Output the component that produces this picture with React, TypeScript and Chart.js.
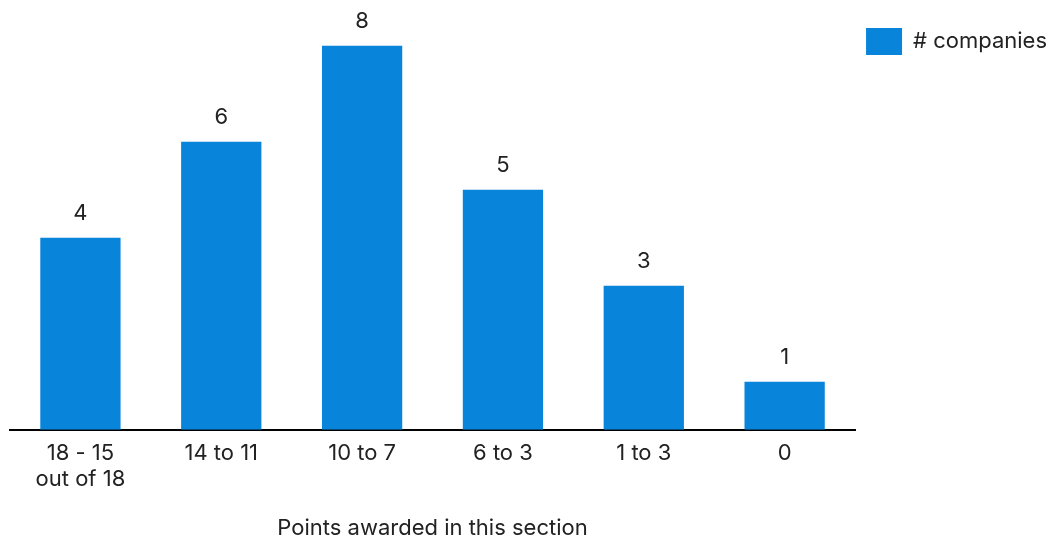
import React, { useEffect, useRef } from "react";
import { Chart, registerables } from "chart.js";

Chart.register(...registerables);

// Score bands and how many companies landed in each
const categories: (string | string[])[] = [
  ["18 - 15", "out of 18"],
  "14 to 11",
  "10 to 7",
  "6 to 3",
  "1 to 3",
  "0",
];
const companies: number[] = [4, 6, 8, 5, 3, 1];
const seriesLabel = "# companies";
const axisTitle = "Points awarded in this section";

const BAR_COLOR = "#0984DB";
const TEXT_COLOR = "#222222";
const FONT_FAMILY = "Inter, 'Noto Sans', sans-serif";
const FONT_SIZE = 22;

// Writes each bar's value just above it
const valueLabels = {
  id: "valueLabels",
  afterDatasetsDraw(chart: Chart) {
    const { ctx } = chart;
    const meta = chart.getDatasetMeta(0);
    const data = chart.data.datasets[0].data as number[];
    ctx.save();
    ctx.font = `${FONT_SIZE}px ${FONT_FAMILY}`;
    ctx.fillStyle = TEXT_COLOR;
    ctx.textAlign = "center";
    ctx.textBaseline = "alphabetic";
    meta.data.forEach((bar: any, i: number) => {
      ctx.fillText(String(data[i]), bar.x, bar.y - 18);
    });
    ctx.restore();
  },
};

export default function App() {
  const canvasRef = useRef<HTMLCanvasElement | null>(null);

  useEffect(() => {
    if (!canvasRef.current) return;
    const chart = new Chart(canvasRef.current, {
      type: "bar",
      data: {
        labels: categories,
        datasets: [
          {
            label: seriesLabel,
            data: companies,
            backgroundColor: BAR_COLOR,
            borderWidth: 0,
            barPercentage: 0.57,
            categoryPercentage: 1,
          },
        ],
      },
      options: {
        animation: false,
        responsive: true,
        maintainAspectRatio: false,
        layout: { padding: { left: 10, top: 17, right: 0, bottom: 0 } },
        plugins: {
          tooltip: { enabled: false },
          legend: {
            display: true,
            position: "right",
            align: "start",
            labels: {
              boxWidth: 36,
              boxHeight: 27,
              padding: 11,
              color: TEXT_COLOR,
              font: { size: FONT_SIZE, family: FONT_FAMILY },
            },
          },
        },
        scales: {
          x: {
            grid: { display: false, drawTicks: false, tickLength: 0 },
            border: { display: true, color: "#000000", width: 2 },
            ticks: {
              color: TEXT_COLOR,
              font: { size: FONT_SIZE, family: FONT_FAMILY, lineHeight: 1.2 },
              padding: 10,
              maxRotation: 0,
            },
            title: {
              display: true,
              text: axisTitle,
              color: TEXT_COLOR,
              font: { size: FONT_SIZE, family: FONT_FAMILY, lineHeight: 1.2 },
              padding: { top: 13, bottom: 0 },
            },
          },
          y: {
            display: false,
            min: 0,
            max: 8.6,
          },
        },
      },
      plugins: [valueLabels],
    });
    return () => chart.destroy();
  }, []);

  return (
    <div style={{ position: "fixed", left: 0, top: 0, width: "100vw", height: "100vh" }}>
      <canvas ref={canvasRef} />
    </div>
  );
}
